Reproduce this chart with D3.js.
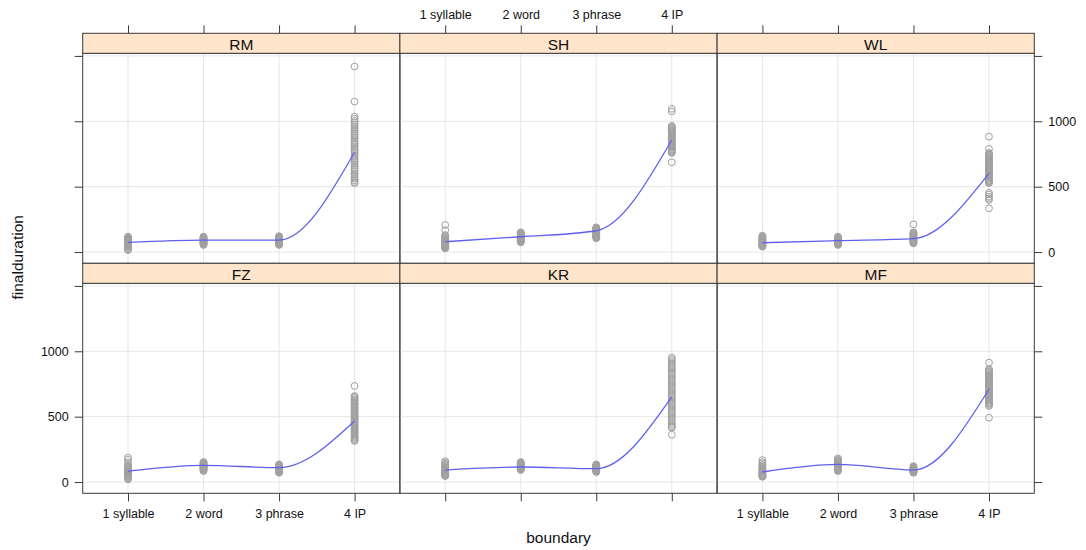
<!DOCTYPE html>
<html>
<head>
<meta charset="utf-8">
<script src="https://cdn.jsdelivr.net/npm/d3@7"></script>
<style>
  body { margin: 0; background: #fff; }
  svg { display: block; }
  text { font-family: "Liberation Sans", Arial, Helvetica, sans-serif; fill: #111; }
</style>
</head>
<body>
<svg id="chart" width="1086" height="550"></svg>
<script>
// Boundary categories on the x axis
const boundaries = ["1 syllable", "2 word", "3 phrase", "4 IP"];
// Panel order: top row then bottom row
const speakers = ["RM", "SH", "WL", "FZ", "KR", "MF"];
// y ticks (ms) and their printed labels
const yTicks = [0, 500, 1000, 1500];
const yTickLabels = ["0", "500", "1000", ""];

// Final syllable durations per speaker, one list per boundary type
const durRM = [
  [15, 22, 30, 38, 44, 49, 53, 57, 60, 63, 66, 69, 72, 75, 78, 81, 84, 87, 90, 94, 98, 103, 108, 113, 118],
  [54, 58, 62, 65, 68, 71, 74, 77, 80, 83, 86, 89, 92, 95, 98, 102, 106, 110, 114, 118],
  [54, 58, 62, 66, 69, 72, 75, 78, 81, 84, 87, 90, 93, 96, 100, 104, 108, 112, 117, 122],
  [1419, 1151, 1036, 1020, 1003, 990, 975, 962, 948, 935, 921, 905, 892, 878, 866, 851, 838, 824, 810, 797, 783, 770, 756, 742, 729, 715, 700, 688, 673, 660, 645, 632, 618, 603, 590, 577, 562, 548, 535, 526]
];
const durSH = [
  [207, 168, 130, 122, 115, 108, 101, 96, 90, 85, 80, 76, 72, 68, 64, 60, 56, 52, 48, 44, 40, 36, 32, 28],
  [74, 78, 82, 86, 90, 93, 97, 100, 104, 108, 111, 115, 118, 122, 126, 130, 134, 138, 143, 147, 151],
  [105, 109, 114, 118, 122, 126, 130, 134, 138, 142, 146, 150, 154, 158, 162, 166, 170, 175, 180, 184, 189],
  [1095, 1075, 965, 957, 952, 943, 938, 929, 925, 916, 908, 903, 894, 889, 880, 874, 868, 861, 852, 847, 840, 831, 826, 817, 811, 803, 798, 789, 784, 776, 768, 763, 758, 687]
];
const durWL = [
  [41, 45, 49, 53, 57, 61, 65, 69, 72, 76, 80, 84, 88, 92, 96, 101, 106, 111, 116, 120, 125],
  [54, 58, 61, 65, 68, 72, 75, 79, 82, 86, 89, 93, 97, 101, 105, 109, 113, 118],
  [212, 151, 145, 140, 135, 130, 125, 120, 115, 111, 106, 102, 98, 94, 90, 86, 82, 78, 74, 70, 67],
  [883, 789, 758, 751, 744, 738, 729, 722, 716, 707, 701, 694, 686, 679, 673, 664, 658, 650, 643, 636, 628, 621, 613, 607, 598, 591, 584, 576, 569, 561, 553, 546, 539, 531, 528, 454, 440, 423, 410, 398, 335]
];
const durFZ = [
  [186, 170, 148, 130, 120, 112, 105, 99, 93, 88, 83, 78, 73, 68, 63, 58, 53, 47, 41, 35, 28, 20],
  [84, 88, 92, 96, 100, 103, 107, 111, 115, 118, 122, 126, 130, 134, 138, 142, 146, 150, 153],
  [71, 75, 79, 82, 86, 89, 93, 96, 100, 103, 107, 111, 114, 118, 122, 127, 131, 135],
  [735, 658, 651, 644, 633, 625, 617, 606, 598, 590, 580, 572, 563, 555, 546, 537, 530, 521, 512, 505, 496, 488, 479, 471, 462, 455, 446, 438, 430, 421, 413, 404, 396, 388, 379, 371, 363, 354, 346, 338, 330, 321, 314]
];
const durKR = [
  [160, 150, 140, 132, 125, 118, 112, 106, 100, 95, 90, 85, 80, 75, 70, 65, 60, 56, 52, 49, 46],
  [92, 96, 99, 103, 106, 110, 113, 117, 120, 124, 128, 132, 136, 140, 145, 149, 153],
  [77, 80, 84, 87, 90, 93, 96, 99, 102, 105, 108, 111, 115, 118, 122, 125, 128, 131, 135],
  [952, 938, 925, 911, 897, 884, 870, 858, 843, 830, 817, 803, 790, 776, 763, 749, 736, 722, 708, 695, 682, 668, 655, 641, 627, 614, 600, 587, 573, 560, 546, 533, 519, 505, 492, 478, 464, 451, 437, 424, 416, 362]
];
const durMF = [
  [168, 152, 140, 130, 120, 112, 105, 100, 95, 90, 85, 80, 75, 70, 65, 60, 55, 51, 47, 43, 40],
  [181, 172, 165, 158, 152, 146, 140, 135, 130, 125, 120, 115, 110, 105, 100, 96, 92, 88, 84],
  [71, 74, 78, 81, 85, 88, 92, 95, 98, 102, 105, 109, 112, 117, 122],
  [913, 863, 857, 848, 842, 833, 827, 818, 812, 803, 796, 788, 781, 773, 766, 758, 751, 742, 736, 727, 721, 712, 705, 697, 690, 682, 675, 666, 660, 651, 644, 636, 629, 621, 614, 605, 599, 590, 582, 492]
];

// Smoothed trend per speaker at each boundary
const fitRM = [74, 92, 92, 763];
const fitSH = [79, 117, 163, 857];
const fitWL = [71, 87, 102, 602];
const fitFZ = [84, 128, 110, 467];
const fitKR = [92, 115, 102, 651];
const fitMF = [77, 135, 92, 710];

const durations = [durRM, durSH, durWL, durFZ, durKR, durMF];
const fits = [fitRM, fitSH, fitWL, fitFZ, fitKR, fitMF];

// Layout
const marginLeft = 82.7, marginTop = 33.3;
const panelW = 317.2, stripH = 20, panelH = 210;
const rowH = stripH + panelH;
const tickLen = 8;
const frameColor = "#3a3a3a";
const gridColor = "#e6e6e6";
const pointColor = "#a0a0a0";
const lineColor = "#6060f0";
const stripFill = "#ffe5cc";

const svg = d3.select("#chart");

const x = d3.scalePoint().domain(boundaries).range([0, panelW]).padding(0.6);
const y = d3.scaleLinear().domain([-86, 1520]).range([panelH, 0]);

const line = d3.line()
  .x((d, i) => x(boundaries[i]))
  .y(d => y(d))
  .curve(d3.curveMonotoneX);

function styleAxis(g) {
  g.select(".domain").remove();
  g.selectAll(".tick line").attr("stroke", frameColor);
  g.selectAll(".tick text").style("font-size", "12.5px").attr("fill", "#111");
}

speakers.forEach((name, i) => {
  const row = Math.floor(i / 3), col = i % 3;
  const x0 = marginLeft + col * panelW;
  const yStrip = marginTop + row * rowH;
  const y0 = yStrip + stripH;

  const g = svg.append("g").attr("transform", `translate(${x0},${y0})`);

  // reference grid
  g.append("g").selectAll("line").data(yTicks).join("line")
    .attr("x1", 0).attr("x2", panelW)
    .attr("y1", d => y(d)).attr("y2", d => y(d))
    .attr("stroke", gridColor).attr("stroke-width", 1);
  g.append("g").selectAll("line").data(boundaries).join("line")
    .attr("x1", d => x(d)).attr("x2", d => x(d))
    .attr("y1", 0).attr("y2", panelH)
    .attr("stroke", gridColor).attr("stroke-width", 1);

  // observations
  const pts = [];
  durations[i].forEach((vals, j) => vals.forEach(v => pts.push({ b: boundaries[j], v })));
  g.append("g").selectAll("circle").data(pts).join("circle")
    .attr("cx", d => x(d.b)).attr("cy", d => y(d.v)).attr("r", 3.4)
    .attr("fill", "none").attr("stroke", pointColor).attr("stroke-width", 1);

  // smooth trend
  g.append("path").datum(fits[i]).attr("d", line)
    .attr("fill", "none").attr("stroke", lineColor).attr("stroke-width", 1.3);

  // panel frame
  g.append("rect").attr("x", 0).attr("y", 0).attr("width", panelW).attr("height", panelH)
    .attr("fill", "none").attr("stroke", frameColor).attr("stroke-width", 1);

  // strip
  const s = svg.append("g").attr("transform", `translate(${x0},${yStrip})`);
  s.append("rect").attr("width", panelW).attr("height", stripH)
    .attr("fill", stripFill).attr("stroke", frameColor).attr("stroke-width", 1);
  s.append("text").attr("x", panelW / 2).attr("y", stripH - 3.5)
    .attr("text-anchor", "middle").style("font-size", "15.5px").text(name);

  // axes: alternating labels, ticks on all outer sides
  if (row === 0) {
    svg.append("g").attr("transform", `translate(${x0},${yStrip})`)
      .call(d3.axisTop(x).tickSize(tickLen).tickPadding(6)
        .tickFormat(d => col === 1 ? d : ""))
      .call(styleAxis);
  }
  if (row === 1) {
    svg.append("g").attr("transform", `translate(${x0},${y0 + panelH})`)
      .call(d3.axisBottom(x).tickSize(tickLen).tickPadding(8)
        .tickFormat(d => col !== 1 ? d : ""))
      .call(styleAxis);
  }
  if (col === 0) {
    svg.append("g").attr("transform", `translate(${x0},${y0})`)
      .call(d3.axisLeft(y).tickValues(yTicks).tickSize(tickLen).tickPadding(6)
        .tickFormat((d, k) => row === 1 ? yTickLabels[k] : ""))
      .call(styleAxis);
  }
  if (col === 2) {
    svg.append("g").attr("transform", `translate(${x0 + panelW},${y0})`)
      .call(d3.axisRight(y).tickValues(yTicks).tickSize(tickLen).tickPadding(6)
        .tickFormat((d, k) => row === 0 ? yTickLabels[k] : ""))
      .call(styleAxis);
  }
});

// axis titles
svg.append("text")
  .attr("transform", `translate(23,${marginTop + rowH - 6}) rotate(-90)`)
  .attr("text-anchor", "middle").style("font-size", "15.5px").text("finalduration");
svg.append("text")
  .attr("x", marginLeft + 1.5 * panelW).attr("y", 543)
  .attr("text-anchor", "middle").style("font-size", "15.5px").text("boundary");
</script>
</body>
</html>
